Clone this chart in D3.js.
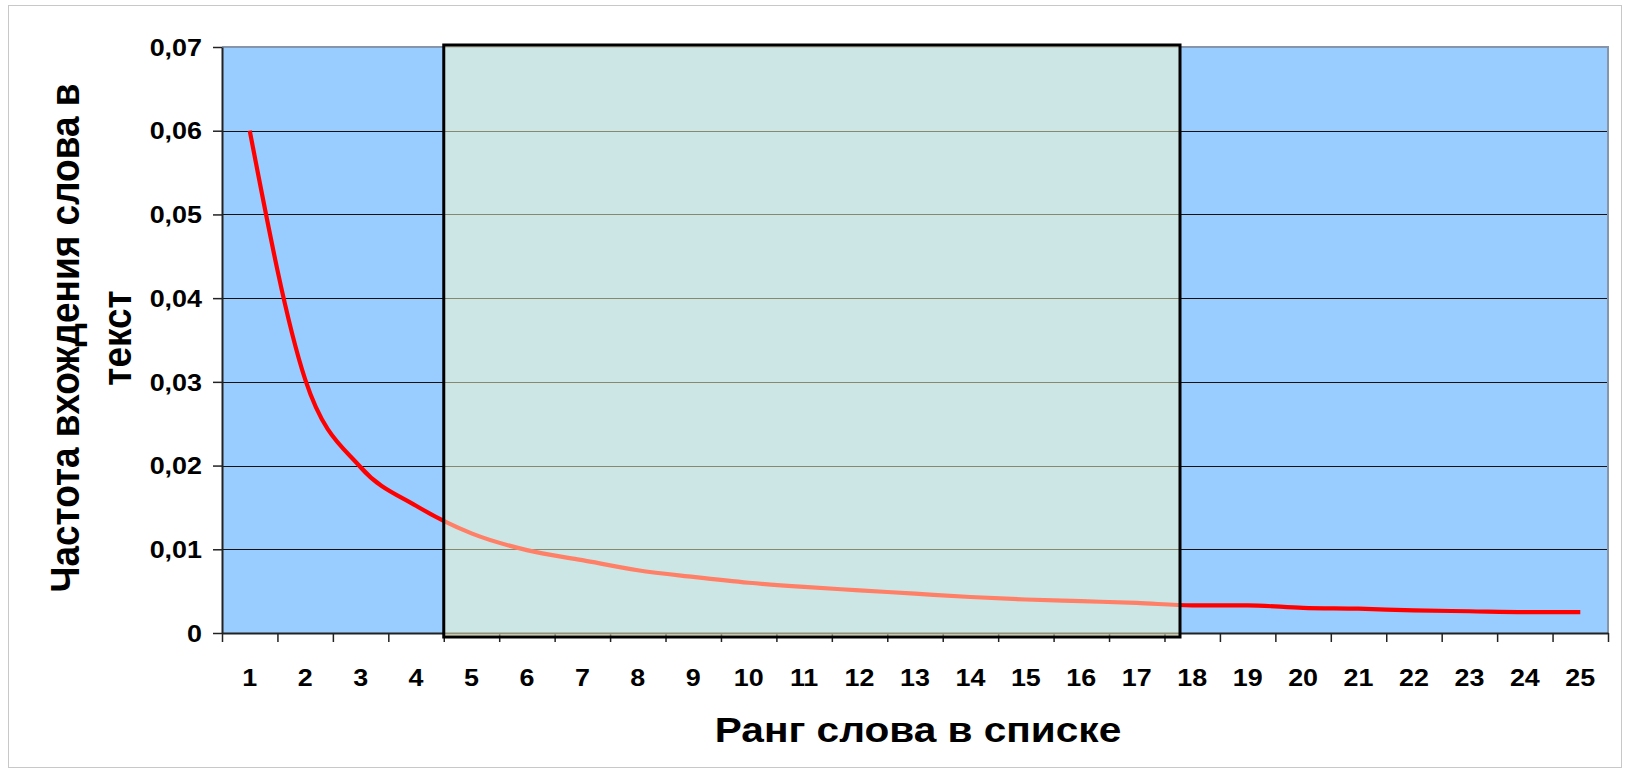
<!DOCTYPE html>
<html><head><meta charset="utf-8">
<script src="https://cdn.jsdelivr.net/npm/d3@7/dist/d3.min.js"></script>
<style>
body{margin:0;background:#fff}
svg{display:block}
text{font-family:"Liberation Sans",Arial,sans-serif;font-weight:bold;fill:#000}
</style>
</head><body>
<svg id="chart" width="1630" height="775"></svg>
<script>
// ---- data ----
const ranks = [1,2,3,4,5,6,7,8,9,10,11,12,13,14,15,16,17,18,19,20,21,22,23,24,25];
const frequency = [0.060,0.0303,0.0198,0.0152,0.0119,0.0099,0.0087,0.0075,0.0067,0.0060,
                   0.0055,0.0051,0.0047,0.0043,0.0040,0.0038,0.0036,0.0033,0.0033,0.0030,
                   0.0029,0.0027,0.0026,0.0025,0.0025];
const yTickValues = [0,0.01,0.02,0.03,0.04,0.05,0.06,0.07];
const yTickLabels = ["0","0,01","0,02","0,03","0,04","0,05","0,06","0,07"];
const highlightRanks = [4.5, 17.78];   // shaded rank span
const xTitle = "Ранг слова в списке";
const yTitleLines = ["Частота вхождения слова в","текст"];

(function(){
// ---- layout ----
const svg = d3.select("#chart");
const pL = 222, pR = 1608, pT = 47, pB = 633;
const stretch = 1.17;

// outer frame
svg.append("rect").attr("x",8.5).attr("y",5.5).attr("width",1613).attr("height",762)
  .attr("fill","#fff").attr("stroke","#c8c8c8").attr("stroke-width",1);

const x = d3.scaleBand().domain(ranks).range([pL,pR]).padding(0);
const xr = d3.scaleLinear().domain([0.5,25.5]).range([pL,pR]);
const y = d3.scaleLinear().domain([0,0.07]).range([pB,pT]);
const bw = x.bandwidth();

// plot background
svg.append("rect").attr("x",pL).attr("y",pT).attr("width",pR-pL).attr("height",pB-pT)
  .attr("fill","#99ccff");

// gridlines
svg.append("g").selectAll("line").data(yTickValues.filter(v=>v>0)).join("line")
  .attr("x1",pL).attr("x2",pR).attr("y1",d=>Math.round(y(d))+0.5).attr("y2",d=>Math.round(y(d))+0.5)
  .attr("stroke","#111").attr("stroke-width",1.2);

// plot border top/right
svg.append("path").attr("d",`M${pL},${pT}H${pR}V${pB}`)
  .attr("fill","none").attr("stroke","#8595ab").attr("stroke-width",2);

// data line
const pts = ranks.map((r,i)=>({r, v:frequency[i]}));
svg.append("path").datum(pts)
  .attr("fill","none").attr("stroke","#ff0000").attr("stroke-width",4.2)
  .attr("stroke-linejoin","round")
  .attr("d", d3.line().x(d=>x(d.r)+bw/2).y(d=>y(d.v)).curve(d3.curveMonotoneX));

// y axis
const yAxis = svg.append("g").attr("transform",`translate(${pL},0)`)
  .call(d3.axisLeft(y).tickValues(yTickValues).tickFormat((d,i)=>yTickLabels[i]).tickSize(9).tickSizeOuter(0));
yAxis.select(".domain").attr("stroke","#222").attr("stroke-width",2);
yAxis.selectAll(".tick line").attr("stroke","#222").attr("stroke-width",1.5);
yAxis.selectAll(".tick text").attr("x",-20/stretch).attr("dy","0.36em")
  .attr("transform",`scale(${stretch},1)`)
  .style("font-size","23px").style("font-family","'Liberation Sans',Arial,sans-serif").style("font-weight","bold");

// x axis ticks at category boundaries
const xTicks = svg.append("g").attr("transform",`translate(0,${pB})`)
  .call(d3.axisBottom(xr).tickValues(d3.range(0.5,25.6,1)).tickFormat("").tickSize(9).tickSizeOuter(0));
xTicks.select(".domain").attr("stroke","#222").attr("stroke-width",2);
xTicks.selectAll(".tick line").attr("stroke","#222").attr("stroke-width",1.5);

// x labels
const xLab = svg.append("g").attr("transform",`translate(0,${pB})`)
  .call(d3.axisBottom(x).tickSize(0));
xLab.select(".domain").remove();
xLab.selectAll(".tick text").attr("y",0).attr("dy",null)
  .attr("transform",`translate(0,53) scale(1.12,1)`)
  .style("font-size","24px").style("font-family","'Liberation Sans',Arial,sans-serif").style("font-weight","bold");

// highlight box overlay
svg.append("rect")
  .attr("x",xr(highlightRanks[0])).attr("y",y(0.07)-2)
  .attr("width",xr(highlightRanks[1])-xr(highlightRanks[0])).attr("height",(y(0)+4)-(y(0.07)-2))
  .attr("fill","#ffffcc").attr("fill-opacity",0.5)
  .attr("stroke","#000").attr("stroke-width",3);

// x title
svg.append("text").attr("transform",`translate(918,742) scale(1.16,1)`)
  .attr("text-anchor","middle").style("font-size","35px").text(xTitle);

// y title
const yt = svg.append("g").attr("transform",`translate(79,338) rotate(-90) scale(1,1.12)`);
yt.selectAll("text").data(yTitleLines).join("text")
  .attr("x",0).attr("y",(d,i)=>i*46).attr("text-anchor","middle")
  .style("font-size","37px").text(d=>d);
})();
</script>
</body></html>
